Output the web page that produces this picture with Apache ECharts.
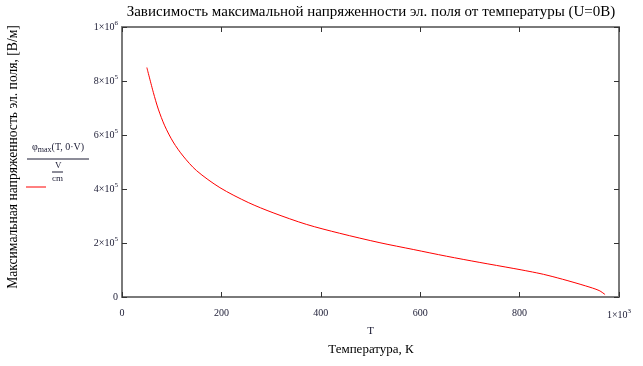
<!DOCTYPE html>
<html><head><meta charset="utf-8">
<script src="https://cdn.jsdelivr.net/npm/echarts@6/dist/echarts.min.js"></script>
<style>html,body{margin:0;padding:0;background:#fff}#c{width:643px;height:366px}</style>
</head><body><div id="c"></div>
<script>
var temperature = [50, 63, 73, 86, 103, 123, 150, 197, 254, 304, 371, 438, 519, 586, 653, 720, 787, 819, 848, 886, 933, 960, 972];
var fieldMax = [850000, 758000, 696000, 634000, 574000, 522000, 468000, 405000, 350000, 312000, 269000, 236000, 201000, 176000, 151000, 128000, 106000, 95000, 84000, 66000, 41000, 24000, 9000];
var xTicks = [0, 200, 400, 600, 800, 1000];
var xTickLabels = ['0', '200', '400', '600', '800', '1×10|3'];
var yTicks = [0, 200000, 400000, 600000, 800000, 1000000];
var yTickLabels = ['0', '2×10|5', '4×10|5', '6×10|5', '8×10|5', '1×10|6'];

var FF = '"Liberation Serif","Times New Roman",serif';
var labColor = '#1a1a33';
function fmtLabel(labels, ticks) {
  return function (v) {
    var i = ticks.indexOf(v);
    if (i < 0) return '';
    var p = labels[i].split('|');
    return p.length > 1 ? '{b|' + p[0] + '}{s|' + p[1] + '}' : '{b|' + p[0] + '}';
  };
}
var rich = {
  b: {fontFamily: FF, fontSize: 10, color: labColor},
  s: {fontFamily: FF, fontSize: 7, color: labColor, verticalAlign: 'top', padding: [0, 0, 7, 0]}
};
var lineStyle = {color: '#7a7a7a', width: 2};
var tick = {show: true, inside: true, length: 5, lineStyle: {color: '#333', width: 1}};

var chart = echarts.init(document.getElementById('c'), null, {renderer: 'canvas'});
var data = temperature.map(function (t, i) { return [t, fieldMax[i]]; });
chart.setOption({
  animation: false,
  backgroundColor: '#fff',
  grid: {left: 122, right: 24, top: 27, bottom: 69, containLabel: false, outerBoundsMode: 'none'},
  xAxis: [{
    type: 'value', min: 0, max: 1000, interval: 200,
    axisLine: {show: true, lineStyle: lineStyle, onZero: false},
    axisTick: tick, splitLine: {show: false},
    axisLabel: {margin: 11, formatter: fmtLabel(xTickLabels, xTicks), rich: rich},
    name: 'T', nameLocation: 'middle', nameGap: 29,
    nameTextStyle: {fontFamily: FF, fontSize: 11, color: labColor}
  }, {
    type: 'value', position: 'top', min: 0, max: 1000, interval: 200,
    axisLine: {show: true, lineStyle: lineStyle, onZero: false},
    axisTick: tick, axisLabel: {show: false}, splitLine: {show: false}
  }],
  yAxis: [{
    type: 'value', min: 0, max: 1000000, interval: 200000,
    axisLine: {show: true, lineStyle: lineStyle, onZero: false},
    axisTick: tick, splitLine: {show: false},
    axisLabel: {margin: 4, formatter: fmtLabel(yTickLabels, yTicks), rich: rich}
  }, {
    type: 'value', position: 'right', min: 0, max: 1000000, interval: 200000,
    axisLine: {show: true, lineStyle: lineStyle, onZero: false},
    axisTick: tick, axisLabel: {show: false}, splitLine: {show: false}
  }],
  series: [{
    type: 'line', data: data, smooth: 0.3, symbol: 'none',
    lineStyle: {color: '#ff0000', width: 1}
  }],
  graphic: [
    {type: 'text', x: 371, y: 12, style: {text: 'Зависимость максимальной напряженности эл. поля от температуры (U=0B)', font: '15px ' + FF, fill: '#000', align: 'center', verticalAlign: 'middle'}},
    {type: 'text', x: 13, y: 157, rotation: Math.PI / 2, style: {text: 'Максимальная напряженность эл. поля, [В/м]', font: '13.6px ' + FF, fill: '#000', align: 'center', verticalAlign: 'middle'}},
    {type: 'text', x: 371, y: 350, style: {text: 'Температура, К', font: '13px ' + FF, fill: '#000', align: 'center', verticalAlign: 'middle'}},
    {type: 'text', x: 32, y: 141, style: {text: '{a|φ}{m|max}{a|(T, 0·V)}', rich: {
      a: {fontFamily: FF, fontSize: 10, fill: labColor, color: labColor},
      m: {fontFamily: FF, fontSize: 8, fill: labColor, color: labColor, padding: [5, 0, 0, 0]}
    }}},
    {type: 'line', shape: {x1: 27, y1: 159, x2: 89, y2: 159}, style: {stroke: labColor, lineWidth: 1}},
    {type: 'text', x: 55, y: 161, style: {text: 'V', font: '9px ' + FF, fill: labColor}},
    {type: 'line', shape: {x1: 52, y1: 172, x2: 63, y2: 172}, style: {stroke: labColor, lineWidth: 1}},
    {type: 'text', x: 52, y: 174, style: {text: 'cm', font: '9px ' + FF, fill: labColor}},
    {type: 'line', shape: {x1: 26, y1: 187, x2: 46, y2: 187}, style: {stroke: '#ff0000', lineWidth: 1}}
  ]
});
</script></body></html>
